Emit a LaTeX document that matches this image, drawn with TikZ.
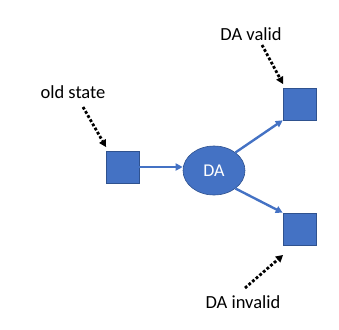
\documentclass[tikz,border=0pt]{standalone}
\usepackage{fontspec}
\setmainfont{Carlito}
\usetikzlibrary{arrows.meta,shapes.geometric}
\definecolor{obl}{HTML}{4472C4}
\definecolor{obd}{HTML}{2F528F}
\begin{document}
\begin{tikzpicture}[x=1pt,y=-1pt,
  sq/.style={draw=obd,fill=obl,line width=0.6pt,minimum width=33pt,minimum height=32pt,inner sep=0pt},
  da/.style={ellipse,draw=obd,fill=obl,line width=0.6pt,minimum width=62pt,minimum height=49pt,inner sep=0pt,text=white,font=\fontsize{18}{20}\selectfont},
  lbl/.style={font=\fontsize{18.5}{21}\selectfont,inner sep=0pt},
  flow/.style={draw=obl,line width=2.4pt,-{Triangle[length=7pt,width=7pt]}},
  ptr/.style={draw=black,line width=2.8pt,dotted,-{Triangle[length=7pt,width=8pt,line width=0pt]}}]
\useasboundingbox (0,0) rectangle (339,329);
\node[sq] (old) at (122.5,167) {};
\node[da] (DA) at (214,170.5) {DA};
\node[sq] (valid) at (299.5,104) {};
\node[sq] (invalid) at (299.5,229) {};
\node[lbl] (lold) at (73,92) {old state};
\node[lbl] (lvalid) at (251,34) {DA valid};
\node[lbl] (linvalid) at (243,302) {DA invalid};
\coordinate (s1) at (83,107);
\coordinate (e1) at (106,147);
\coordinate (s2) at (262,45);
\coordinate (e2) at (283,84);
\coordinate (s3) at (245,288);
\coordinate (e3) at (283,255);
\draw[ptr] (s1) -- (e1);
\draw[ptr] (s2) -- (e2);
\draw[ptr] (s3) -- (e3);
\draw[flow] (old.east) -- (old.east -| DA.west);
\draw[flow] (DA.40) -- (valid.south west);
\draw[flow] (DA.-40) -- (invalid.north west);
\end{tikzpicture}
\end{document}
